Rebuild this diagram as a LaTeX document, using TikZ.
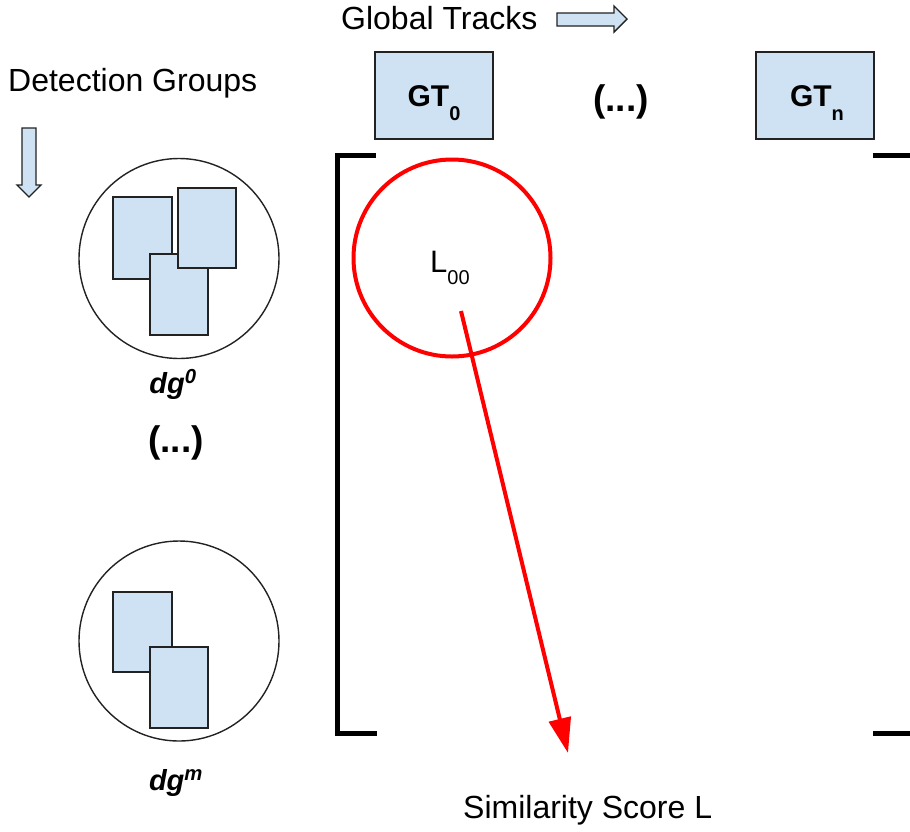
\documentclass[tikz,border=0pt]{standalone}
\usepackage{fontspec}
\setmainfont{Liberation Sans}
\usetikzlibrary{arrows.meta}

\definecolor{cardblue}{HTML}{CFE2F3}
\definecolor{ink}{HTML}{222222}

\begin{document}
\begin{tikzpicture}[x=1pt,y=-1pt,
  card/.style={draw=ink,line width=1.6pt,fill=cardblue},
  blockarrow/.style={draw=ink,line width=1.4pt,fill=cardblue,line join=miter},
  group/.style={circle,draw=ink,line width=1.4pt,minimum size=200pt,inner sep=0pt},
  track/.style={draw=ink,line width=1.6pt,fill=cardblue,minimum width=118pt,minimum height=87pt,inner sep=0pt},
  caption/.style={inner sep=0pt,font=\fontsize{32}{38}\selectfont},
  tracklabel/.style={inner sep=0pt,anchor=base,font=\fontsize{30}{36}\selectfont\bfseries},
  grouplabel/.style={inner sep=0pt,anchor=base,font=\fontsize{29}{34}\selectfont\bfseries\itshape},
  ellipsis/.style={inner sep=0pt,font=\fontsize{37}{44}\selectfont\bfseries},
  bracket/.style={draw=black,line width=5pt,line join=miter},
  score/.style={circle,draw=red,line width=4pt,minimum size=197pt,inner sep=0pt},
  scorearrow/.style={draw=red,line width=4pt,-{Triangle[length=35pt,width=22pt]}}
]
\useasboundingbox (0,0) rectangle (910,831);
\clip (0,0) rectangle (910,831);

% axis captions and their block arrows
\node[caption,anchor=base west] (dgcap) at (8,91) {Detection Groups};
\draw[blockarrow] (22,128) -- (36,128) -- (36,185) -- (41,185) -- (29,197)
  -- (17,185) -- (22,185) -- cycle;
\node[caption,anchor=base west] (gtcap) at (341,29) {Global Tracks};
\draw[blockarrow] (557,13) -- (614,13) -- (614,6) -- (627,19) -- (614,32)
  -- (614,26) -- (557,26) -- cycle;

% global track boxes
\node[track] (gt0) at (434,95.5) {};
\node[track] (gtn) at (815,95.5) {};
\node[tracklabel] (gt0txt) at (434,106) {GT\raisebox{-14pt}{\fontsize{20}{24}\selectfont 0}};
\node[tracklabel] (gtntxt) at (817,106) {GT\raisebox{-14pt}{\fontsize{20}{24}\selectfont n}};
\node[ellipsis] (gtdots) at (621,102) {(...)};

% detection group dg^0
\node[group] (dg0) at (179,258.5) {};
\draw[card] (113,197) rectangle (172,279);
\draw[card] (150,254) rectangle (208,335);
\draw[card] (178,188) rectangle (236,268);
\node[grouplabel] (dg0txt) at (173,393) {dg\textsuperscript{0}};

\node[ellipsis] (dgdots) at (176,443) {(...)};

% detection group dg^m
\node[group] (dgm) at (179,641) {};
\draw[card] (113,592) rectangle (172,672);
\draw[card] (150,647) rectangle (208,728);
\node[grouplabel] (dgmtxt) at (176,790) {dg\textsuperscript{m}};

% similarity matrix brackets
\draw[bracket] (376,155) -- (337,155) -- (337,733) -- (377,733);
\draw[bracket] (873,155) -- (912,155) -- (912,733) -- (873,733);

% highlighted entry L_00
\node[score] (l00) at (452,258) {};
\node[inner sep=0pt,anchor=base west,font=\fontsize{31}{36}\selectfont] (l00txt) at (430,272)
  {L\raisebox{-12pt}{\fontsize{20}{24}\selectfont 00}};
\coordinate (arrowstart) at (461,311);
\coordinate (arrowtip) at (568,753);
\draw[scorearrow] (arrowstart) -- (arrowtip);
\node[caption,anchor=base west] (scorecap) at (463,818) {Similarity Score L};
\end{tikzpicture}
\end{document}
